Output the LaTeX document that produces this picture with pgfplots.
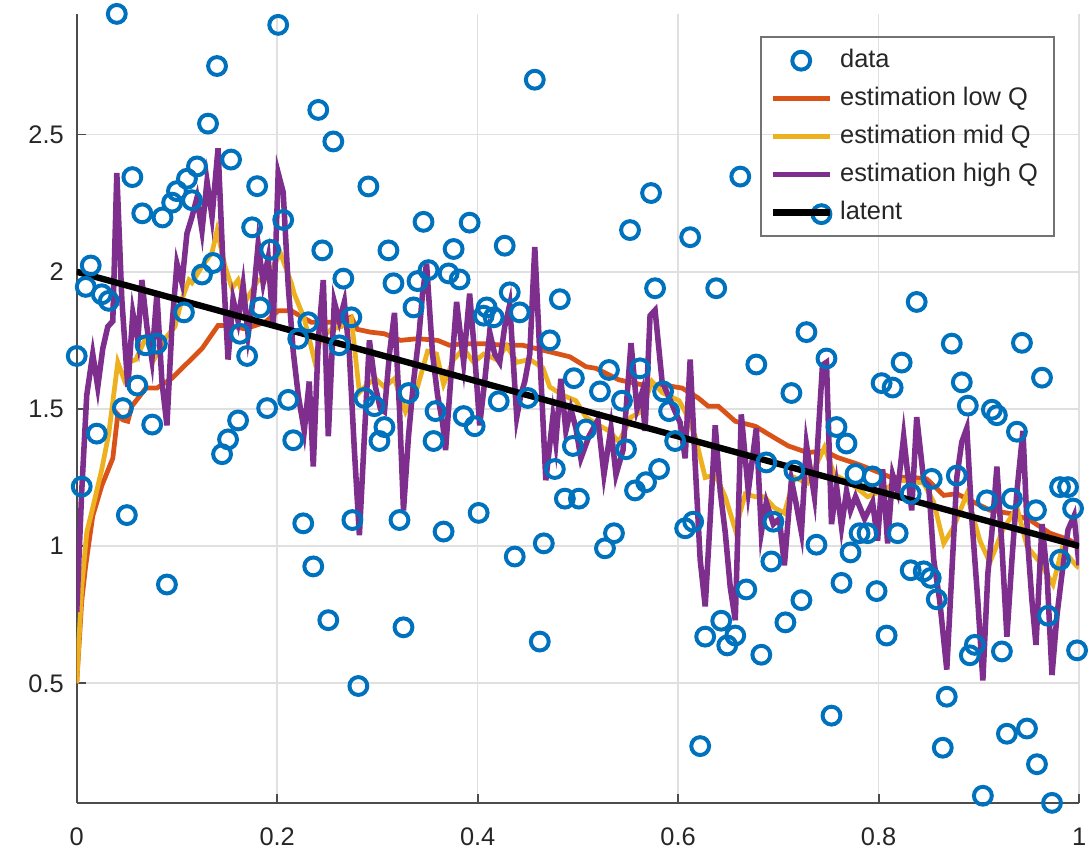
\documentclass[border=0pt]{standalone}
\usepackage{fontspec}
\setmainfont{Liberation Sans}
\usepackage{pgfplots}
\pgfplotsset{compat=1.18}
\definecolor{cdata}{RGB}{0,114,189}
\definecolor{clow}{RGB}{217,83,25}
\definecolor{cmid}{RGB}{237,177,32}
\definecolor{chigh}{RGB}{126,47,142}
\begin{document}
\begin{tikzpicture}
\begin{axis}[
    name=a,
    scale only axis,
    width=505pt, height=397.5pt,
    xmin=0, xmax=1, ymin=0.064, ymax=2.94,
    xtick={0,0.2,0.4,0.6,0.8,1},
    ytick={0.5,1,1.5,2,2.5},
    axis x line*=bottom, axis y line*=left,
    axis line style={-, draw=black!70, line width=0.9pt},
    tick align=inside,
    major tick length=4.5pt,
    tick style={black!70, line width=0.9pt},
    grid=major,
    major grid style={black!12, line width=0.8pt},
    /pgf/number format/assume math mode=true,
    ticklabel style={font=\fontsize{12.8}{15}\selectfont, text=black!85},
    xticklabel style={yshift=-9pt},
    yticklabel style={xshift=-3pt},
    legend cell align=left,
    legend style={at={(0.976,0.972)}, anchor=north east, draw=black!55,
        line width=0.8pt, fill=none, font=\fontsize{12.8}{15}\selectfont,
        text=black!85, inner xsep=4.5pt, inner ysep=2.5pt, row sep=0pt,
        nodes={text height=10pt, text depth=3.2pt, inner ysep=2.95pt, inner xsep=3.75pt}},
    legend image code/.code={\draw[mark repeat=2,mark phase=2]
        plot coordinates {(0pt,0pt) (14.25pt,0pt) (28.5pt,0pt)};},
]
% noisy observations
\addplot[only marks, mark=o, mark size=4.5pt, cdata, line width=2pt] coordinates {
 (0.000,1.693) (0.005,1.217) (0.009,1.945) (0.014,2.023) (0.020,1.410)
 (0.025,1.918) (0.032,1.894) (0.040,2.940) (0.046,1.503) (0.050,1.113)
 (0.0555,2.345) (0.0605,1.585) (0.0654,2.213) (0.0688,1.732) (0.0753,1.443)
 (0.080,1.738) (0.0856,2.198) (0.090,0.860) (0.0952,2.252) (0.100,2.294)
 (0.107,1.852) (0.110,2.339) (0.115,2.261) (0.120,2.384) (0.125,1.990)
 (0.131,2.540) (0.136,2.032) (0.140,2.750) (0.145,1.335) (0.151,1.389)
 (0.154,2.409) (0.161,1.458) (0.163,1.774) (0.170,1.693) (0.175,2.162)
 (0.180,2.312) (0.183,1.870) (0.190,1.503) (0.193,2.080) (0.201,2.900)
 (0.206,2.189) (0.211,1.533) (0.216,1.386) (0.221,1.756) (0.226,1.083)
 (0.231,1.816) (0.236,0.926) (0.241,2.590) (0.245,2.078) (0.251,0.730)
 (0.256,2.475) (0.262,1.732) (0.266,1.975) (0.274,1.834) (0.275,1.095)
 (0.281,0.490) (0.287,1.540) (0.291,2.311) (0.297,1.510) (0.302,1.383)
 (0.307,1.434) (0.311,2.078) (0.316,1.958) (0.322,1.095) (0.326,0.704)
 (0.331,1.558) (0.336,1.870) (0.340,1.966) (0.346,2.182) (0.351,2.006)
 (0.356,1.383) (0.358,1.492) (0.366,1.053) (0.371,1.994) (0.376,2.083)
 (0.382,1.972) (0.386,1.474) (0.392,2.179) (0.397,1.437) (0.401,1.121)
 (0.406,1.840) (0.409,1.870) (0.416,1.834) (0.421,1.528) (0.427,2.095)
 (0.432,1.925) (0.437,0.962) (0.442,1.852) (0.450,1.540) (0.457,2.700)
 (0.462,0.652) (0.466,1.010) (0.472,1.750) (0.477,1.281) (0.482,1.900)
 (0.487,1.173) (0.496,1.612) (0.495,1.365) (0.501,1.173) (0.508,1.425)
 (0.522,1.564) (0.527,0.992) (0.531,1.642) (0.536,1.047) (0.544,1.530)
 (0.548,1.353) (0.552,2.152) (0.557,1.203) (0.562,1.648) (0.568,1.233)
 (0.573,2.287) (0.577,1.940) (0.581,1.281) (0.585,1.564) (0.591,1.492)
 (0.597,1.383) (0.607,1.065) (0.612,2.126) (0.615,1.089) (0.622,0.271)
 (0.627,0.670) (0.638,1.940) (0.643,0.728) (0.649,0.638) (0.657,0.674)
 (0.662,2.347) (0.668,0.842) (0.678,1.662) (0.683,0.604) (0.688,1.305)
 (0.693,0.944) (0.695,1.089) (0.707,0.722) (0.713,1.558) (0.716,1.275)
 (0.723,0.803) (0.728,1.780) (0.738,1.005) (0.743,2.210) (0.748,1.684)
 (0.753,0.382) (0.763,0.866) (0.758,1.434) (0.768,1.374) (0.772,0.977)
 (0.777,1.263) (0.781,1.047) (0.789,1.047) (0.794,1.254) (0.798,0.836)
 (0.803,1.594) (0.808,0.674) (0.814,1.578) (0.819,1.047) (0.823,1.669)
 (0.832,0.912) (0.832,1.191) (0.838,1.890) (0.845,0.908) (0.852,0.884)
 (0.853,1.245) (0.858,0.806) (0.864,0.265) (0.868,0.451) (0.873,1.738)
 (0.878,1.257) (0.883,1.597) (0.889,1.512) (0.891,0.602) (0.896,0.640)
 (0.904,0.090) (0.908,1.167) (0.913,1.497) (0.918,1.477) (0.923,0.616)
 (0.928,0.316) (0.933,1.173) (0.938,1.417) (0.943,1.741) (0.948,0.335)
 (0.957,1.131) (0.958,0.205) (0.963,1.614) (0.969,0.746) (0.973,0.064)
 (0.981,1.215) (0.981,0.950) (0.989,1.215) (0.994,1.137) (0.998,0.620)
};
\addlegendentry{data}

% low Q estimate
\addplot[clow, line width=2.4pt] coordinates {
 (0,0.5) (0.005,0.80) (0.009,0.93) (0.016,1.11) (0.025,1.22) (0.036,1.32)
 (0.041,1.48) (0.046,1.46) (0.051,1.455) (0.055,1.51) (0.069,1.576)
 (0.080,1.576) (0.095,1.612) (0.105,1.648) (0.125,1.72) (0.141,1.804)
 (0.151,1.804) (0.168,1.792) (0.188,1.816) (0.201,1.858) (0.214,1.858)
 (0.234,1.816) (0.260,1.816) (0.274,1.835) (0.280,1.79) (0.293,1.78)
 (0.307,1.774) (0.323,1.75) (0.340,1.756) (0.360,1.75) (0.372,1.732)
 (0.386,1.738) (0.406,1.738) (0.426,1.732) (0.445,1.732) (0.472,1.708)
 (0.492,1.69) (0.508,1.654) (0.518,1.648) (0.541,1.606) (0.564,1.588)
 (0.584,1.588) (0.604,1.576) (0.620,1.540) (0.630,1.510) (0.640,1.510)
 (0.657,1.455) (0.677,1.437) (0.696,1.395) (0.710,1.365) (0.729,1.341)
 (0.746,1.347) (0.759,1.323) (0.779,1.299) (0.796,1.275) (0.812,1.251)
 (0.832,1.251) (0.848,1.245) (0.865,1.185) (0.878,1.191) (0.891,1.167)
 (0.911,1.131) (0.931,1.119) (0.951,1.095) (0.971,1.047) (0.990,1.023)
 (1.0,1.0)
};
\addlegendentry{estimation low Q}

% mid Q estimate
\addplot[cmid, line width=2.4pt] coordinates {
 (0,0.5) (0.005,0.85) (0.010,1.05) (0.016,1.14) (0.025,1.28) (0.032,1.41)
 (0.041,1.67) (0.047,1.61) (0.052,1.67) (0.059,1.68) (0.069,1.76)
 (0.077,1.68) (0.089,1.76) (0.098,1.80) (0.105,1.90) (0.112,1.97)
 (0.115,1.96) (0.125,2.02) (0.135,2.07) (0.140,2.15) (0.148,2.02)
 (0.155,1.94) (0.161,1.97) (0.168,1.89) (0.181,1.97) (0.190,1.97)
 (0.203,2.07) (0.214,1.96) (0.217,1.92) (0.227,1.83) (0.237,1.68)
 (0.244,1.76) (0.254,1.79) (0.264,1.80) (0.274,1.83) (0.282,1.56)
 (0.290,1.59) (0.298,1.61) (0.307,1.58) (0.317,1.61) (0.328,1.49)
 (0.340,1.58) (0.350,1.71) (0.359,1.70) (0.366,1.59) (0.376,1.68)
 (0.386,1.72) (0.396,1.67) (0.406,1.70) (0.419,1.68) (0.429,1.73)
 (0.439,1.67) (0.452,1.68) (0.465,1.65) (0.472,1.58) (0.485,1.55)
 (0.498,1.53) (0.508,1.47) (0.521,1.44) (0.531,1.42) (0.541,1.38)
 (0.553,1.47) (0.563,1.49) (0.574,1.60) (0.584,1.56) (0.601,1.53)
 (0.607,1.49) (0.617,1.40) (0.627,1.25) (0.637,1.26) (0.647,1.18)
 (0.657,1.06) (0.667,1.19) (0.677,1.18) (0.686,1.18) (0.696,1.14)
 (0.706,1.12) (0.716,1.25) (0.729,1.23) (0.746,1.36) (0.756,1.26)
 (0.772,1.23) (0.789,1.18) (0.802,1.20) (0.822,1.24) (0.845,1.23)
 (0.855,1.16) (0.865,1.01) (0.875,1.07) (0.888,1.19) (0.901,1.02)
 (0.911,0.94) (0.924,1.06) (0.938,1.14) (0.948,1.00) (0.961,0.94)
 (0.974,0.86) (0.983,0.99) (0.997,0.93) (1.0,0.92)
};
\addlegendentry{estimation mid Q}

% high Q estimate
\addplot[chigh, line width=2.8pt] coordinates {
 (0,0.76) (0.005,1.2) (0.010,1.55) (0.016,1.70) (0.021,1.58) (0.026,1.72)
 (0.031,1.80) (0.036,1.82) (0.040,2.36) (0.045,1.90) (0.051,1.58)
 (0.056,1.85) (0.061,1.75) (0.065,1.97) (0.070,1.80) (0.075,1.68)
 (0.080,1.92) (0.085,1.60) (0.090,1.44) (0.095,1.80) (0.100,2.03)
 (0.105,1.96) (0.110,2.14) (0.115,2.20) (0.120,2.27) (0.125,2.15)
 (0.130,2.33) (0.135,2.20) (0.141,2.45) (0.146,2.02) (0.151,1.68)
 (0.156,1.90) (0.161,1.82) (0.166,1.95) (0.171,1.77) (0.176,1.90)
 (0.181,2.10) (0.186,1.96) (0.191,2.05) (0.196,1.80) (0.201,2.36)
 (0.206,2.29) (0.211,1.95) (0.216,1.71) (0.221,1.55) (0.227,1.42)
 (0.232,1.60) (0.236,1.29) (0.241,1.75) (0.246,1.97) (0.251,1.40)
 (0.257,1.89) (0.262,1.82) (0.267,1.89) (0.272,1.70) (0.277,1.35)
 (0.282,1.04) (0.287,1.40) (0.292,1.75) (0.298,1.58) (0.303,1.50)
 (0.307,1.49) (0.312,1.70) (0.317,1.85) (0.322,1.50) (0.326,1.13)
 (0.331,1.40) (0.336,1.60) (0.341,1.75) (0.345,1.92) (0.349,2.03)
 (0.355,1.70) (0.360,1.55) (0.365,1.45) (0.368,1.35) (0.374,1.65)
 (0.379,1.89) (0.386,1.67) (0.392,1.92) (0.397,1.70) (0.402,1.44)
 (0.407,1.60) (0.412,1.78) (0.417,1.70) (0.422,1.67) (0.427,1.80)
 (0.432,1.88) (0.439,1.47) (0.443,1.55) (0.447,1.60) (0.452,1.70)
 (0.457,2.09) (0.462,1.70) (0.468,1.24) (0.475,1.47) (0.478,1.38)
 (0.483,1.61) (0.488,1.42) (0.493,1.50) (0.498,1.43) (0.503,1.32)
 (0.511,1.40) (0.520,1.46) (0.526,1.26) (0.533,1.43) (0.538,1.26)
 (0.545,1.35) (0.553,1.74) (0.559,1.50) (0.564,1.56) (0.567,1.42)
 (0.572,1.84) (0.577,1.86) (0.584,1.60) (0.590,1.55) (0.597,1.49)
 (0.602,1.45) (0.607,1.32) (0.612,1.68) (0.617,1.30) (0.622,0.95)
 (0.627,0.78) (0.632,1.10) (0.637,1.44) (0.642,1.20) (0.647,1.05)
 (0.652,0.85) (0.657,0.73) (0.663,1.48) (0.670,1.20) (0.678,1.43)
 (0.683,1.05) (0.688,1.16) (0.695,1.08) (0.701,1.10) (0.706,0.93)
 (0.713,1.24) (0.718,1.15) (0.723,1.05) (0.728,1.37) (0.736,1.18)
 (0.744,1.66) (0.748,1.67) (0.753,1.08) (0.758,1.22) (0.763,1.07)
 (0.768,1.20) (0.772,1.13) (0.777,1.18) (0.786,1.10) (0.794,1.16)
 (0.799,1.02) (0.804,1.28) (0.809,1.01) (0.814,1.26) (0.819,1.20)
 (0.825,1.40) (0.833,1.13) (0.838,1.47) (0.845,1.24) (0.850,1.22)
 (0.855,0.95) (0.861,0.80) (0.868,0.55) (0.873,0.90) (0.878,1.25)
 (0.883,1.38) (0.888,1.43) (0.893,1.10) (0.899,0.80) (0.904,0.51)
 (0.909,0.90) (0.913,1.05) (0.918,1.29) (0.923,1.00) (0.928,0.67)
 (0.933,0.95) (0.938,1.20) (0.944,1.42) (0.949,1.00) (0.953,0.80)
 (0.957,0.64) (0.963,1.08) (0.968,0.90) (0.973,0.53) (0.978,0.75)
 (0.983,0.90) (0.989,1.06) (0.995,1.11) (1.000,0.93)
};
\addlegendentry{estimation high Q}

% true latent trend
\addplot[black, line width=3.2pt] coordinates {(0,2) (1,1)};
\addlegendentry{latent}
\end{axis}
\pgfresetboundingbox
\path ([shift={(-38.65pt,-27.15pt)}]a.south west) rectangle ([shift={(4.5pt,7pt)}]a.north east);
\end{tikzpicture}
\end{document}
